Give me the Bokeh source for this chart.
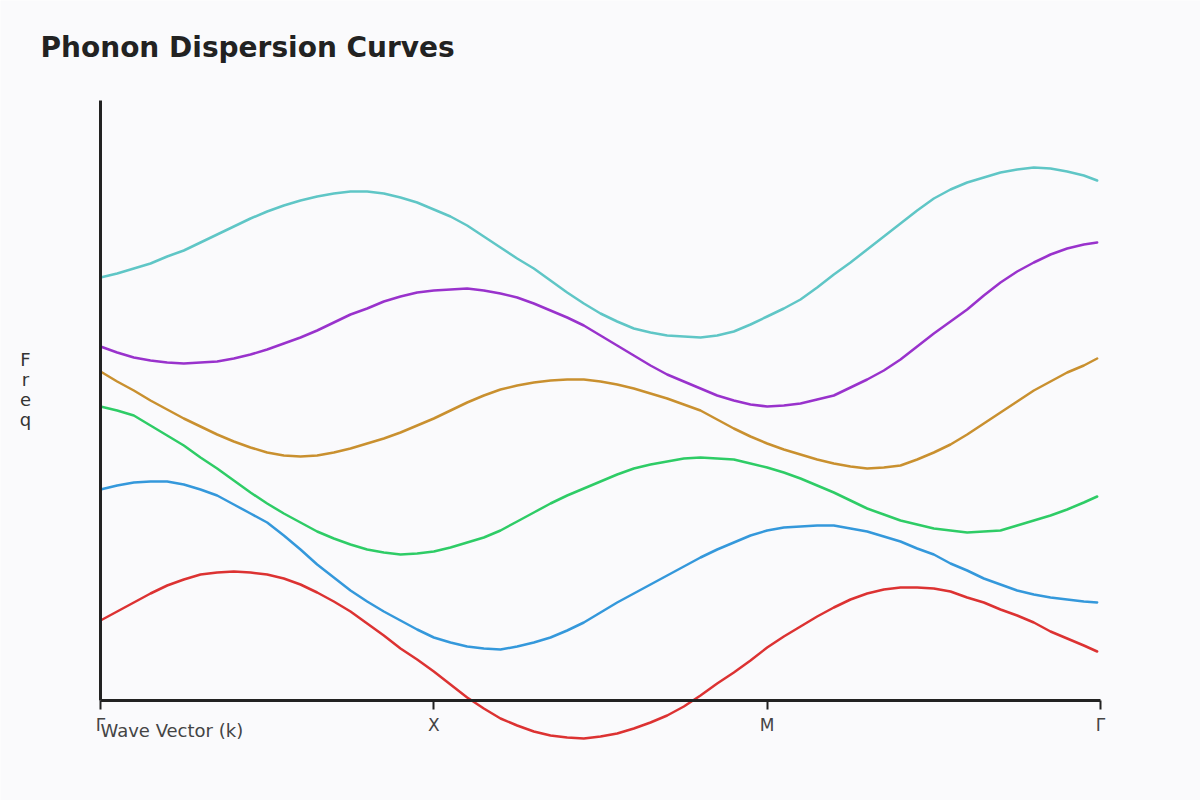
from bokeh.plotting import figure
from bokeh.models import Range1d, FixedTicker, Label, ColumnDataSource
from bokeh.embed import file_html
from bokeh.resources import INLINE

# Path through the Brillouin zone: Γ -> X -> M -> Γ
k = [0.00, 0.05, 0.10, 0.15, 0.20, 0.25, 0.30, 0.35, 0.40, 0.45,
     0.50, 0.55, 0.60, 0.65, 0.70, 0.75, 0.80, 0.85, 0.90, 0.95,
     1.00, 1.05, 1.10, 1.15, 1.20, 1.25, 1.30, 1.35, 1.40, 1.45,
     1.50, 1.55, 1.60, 1.65, 1.70, 1.75, 1.80, 1.85, 1.90, 1.95,
     2.00, 2.05, 2.10, 2.15, 2.20, 2.25, 2.30, 2.35, 2.40, 2.45,
     2.50, 2.55, 2.60, 2.65, 2.70, 2.75, 2.80, 2.85, 2.90, 2.95, 2.99]
tick_positions = [0, 1, 2, 3]
tick_labels = ["Γ", "X", "M", "Γ"]

# Branch frequencies (THz) sampled along k
band_1 = [1.60, 1.78, 1.96, 2.14, 2.30, 2.42, 2.52, 2.56, 2.58, 2.56,
          2.52, 2.44, 2.32, 2.16, 1.98, 1.78, 1.54, 1.30, 1.04, 0.82,
          0.58, 0.32, 0.06, -0.16, -0.36, -0.50, -0.62, -0.70, -0.74, -0.76,
          -0.72, -0.66, -0.56, -0.44, -0.30, -0.12, 0.10, 0.34, 0.56, 0.80,
          1.06, 1.28, 1.48, 1.68, 1.86, 2.02, 2.14, 2.22, 2.26, 2.26,
          2.24, 2.18, 2.06, 1.96, 1.82, 1.70, 1.56, 1.38, 1.24, 1.10, 0.98]
band_2 = [4.22, 4.30, 4.36, 4.38, 4.38, 4.32, 4.22, 4.10, 3.92, 3.74,
          3.56, 3.30, 3.02, 2.72, 2.46, 2.20, 1.98, 1.78, 1.60, 1.42,
          1.26, 1.16, 1.08, 1.04, 1.02, 1.08, 1.16, 1.26, 1.40, 1.56,
          1.76, 1.96, 2.14, 2.32, 2.50, 2.68, 2.86, 3.02, 3.16, 3.30,
          3.40, 3.46, 3.48, 3.50, 3.50, 3.44, 3.38, 3.28, 3.18, 3.04,
          2.92, 2.74, 2.60, 2.44, 2.32, 2.20, 2.12, 2.06, 2.02, 1.98, 1.96]
band_3 = [5.88, 5.80, 5.70, 5.50, 5.30, 5.10, 4.86, 4.64, 4.40, 4.16,
          3.94, 3.74, 3.56, 3.38, 3.24, 3.12, 3.02, 2.96, 2.92, 2.94,
          2.98, 3.06, 3.16, 3.26, 3.40, 3.58, 3.76, 3.94, 4.10, 4.24,
          4.38, 4.52, 4.64, 4.72, 4.78, 4.84, 4.86, 4.84, 4.82, 4.74,
          4.66, 4.56, 4.44, 4.30, 4.16, 4.00, 3.84, 3.72, 3.60, 3.52,
          3.44, 3.40, 3.36, 3.38, 3.40, 3.50, 3.60, 3.70, 3.82, 3.96, 4.08]
band_4 = [6.58, 6.38, 6.20, 6.00, 5.82, 5.64, 5.48, 5.32, 5.18, 5.06,
          4.96, 4.90, 4.88, 4.90, 4.96, 5.04, 5.14, 5.24, 5.36, 5.50,
          5.64, 5.80, 5.96, 6.10, 6.22, 6.30, 6.36, 6.40, 6.42, 6.42,
          6.38, 6.32, 6.24, 6.14, 6.04, 5.92, 5.80, 5.62, 5.44, 5.28,
          5.14, 5.02, 4.92, 4.82, 4.74, 4.68, 4.64, 4.66, 4.70, 4.82,
          4.96, 5.12, 5.32, 5.54, 5.76, 5.98, 6.20, 6.38, 6.56, 6.70, 6.84]
band_5 = [7.08, 6.96, 6.86, 6.80, 6.76, 6.74, 6.76, 6.78, 6.84, 6.92,
          7.02, 7.14, 7.26, 7.40, 7.56, 7.72, 7.84, 7.98, 8.08, 8.16,
          8.20, 8.22, 8.24, 8.20, 8.14, 8.06, 7.94, 7.80, 7.66, 7.50,
          7.30, 7.10, 6.90, 6.70, 6.52, 6.38, 6.24, 6.10, 6.00, 5.92,
          5.88, 5.90, 5.94, 6.02, 6.10, 6.26, 6.42, 6.60, 6.82, 7.08,
          7.34, 7.58, 7.82, 8.10, 8.36, 8.58, 8.76, 8.92, 9.04, 9.12, 9.16]
band_6 = [8.46, 8.54, 8.64, 8.74, 8.88, 9.00, 9.16, 9.32, 9.48, 9.64,
          9.78, 9.90, 10.00, 10.08, 10.14, 10.18, 10.18, 10.14, 10.06, 9.96,
          9.82, 9.68, 9.50, 9.28, 9.06, 8.84, 8.64, 8.40, 8.16, 7.94,
          7.74, 7.58, 7.44, 7.36, 7.30, 7.28, 7.26, 7.30, 7.38, 7.52,
          7.68, 7.84, 8.02, 8.26, 8.52, 8.76, 9.02, 9.28, 9.54, 9.80,
          10.04, 10.22, 10.36, 10.46, 10.56, 10.62, 10.66, 10.64, 10.58, 10.50, 10.40]

bands = [band_1, band_2, band_3, band_4, band_5, band_6]
band_colors = ["#DC3232", "#3498DB", "#2ECC66", "#C9902F", "#9932CC", "#5FC6C6"]

BG = "#FAFAFC"
INK = "#222222"
FONT = "DejaVu Sans"

# The frame fills the whole canvas; both axes are pinned at zero
p = figure(width=1200, height=800, output_backend="svg", toolbar_location=None,
           x_range=Range1d(-0.3, 3.3), y_range=Range1d(-2, 14),
           min_border=0, min_border_left=0, min_border_right=0,
           min_border_top=0, min_border_bottom=0,
           background_fill_color=BG, border_fill_color=BG,
           outline_line_color=None)
p.grid.visible = False

source = ColumnDataSource(data=dict(k=k, **{f"band_{i + 1}": b for i, b in enumerate(bands)}))
for i, color in enumerate(band_colors):
    p.line("k", f"band_{i + 1}", source=source, line_color=color,
           line_width=2.5, line_join="round", line_cap="round")

xa = p.xaxis[0]
xa.fixed_location = 0
xa.bounds = (0, 3)
xa.ticker = FixedTicker(ticks=tick_positions)
xa.major_label_overrides = {t: lab for t, lab in zip(tick_positions, tick_labels)}
xa.axis_line_color = INK
xa.axis_line_width = 3
xa.major_tick_line_color = INK
xa.major_tick_line_width = 2
xa.major_tick_in = 0
xa.major_tick_out = 9
xa.minor_tick_line_color = None
xa.major_label_standoff = 5
xa.major_label_text_font = FONT
xa.major_label_text_font_size = "17px"
xa.major_label_text_color = "#444444"

ya = p.yaxis[0]
ya.fixed_location = 0
ya.ticker = FixedTicker(ticks=[])
ya.bounds = (0, 12)
ya.axis_line_color = INK
ya.axis_line_width = 3
ya.major_tick_line_color = None
ya.minor_tick_line_color = None

p.add_layout(Label(x=40, y=753, x_units="screen", y_units="screen",
                   text="Phonon Dispersion Curves", text_font=FONT,
                   text_font_size="28px", text_font_style="bold",
                   text_color=INK, text_baseline="alphabetic"))
p.add_layout(Label(x=25, y=411, x_units="screen", y_units="screen",
                   text="F\nr\ne\nq", text_font=FONT, text_font_size="18px",
                   text_line_height=0.95, text_align="center",
                   text_baseline="middle", text_color="#333333"))
p.add_layout(Label(x=100, y=70, x_units="screen", y_units="screen",
                   text="Wave Vector (k)", text_font=FONT,
                   text_font_size="18px", text_align="left",
                   text_baseline="alphabetic", text_color="#444444"))

open("out.html", "w").write(file_html(p, INLINE))
